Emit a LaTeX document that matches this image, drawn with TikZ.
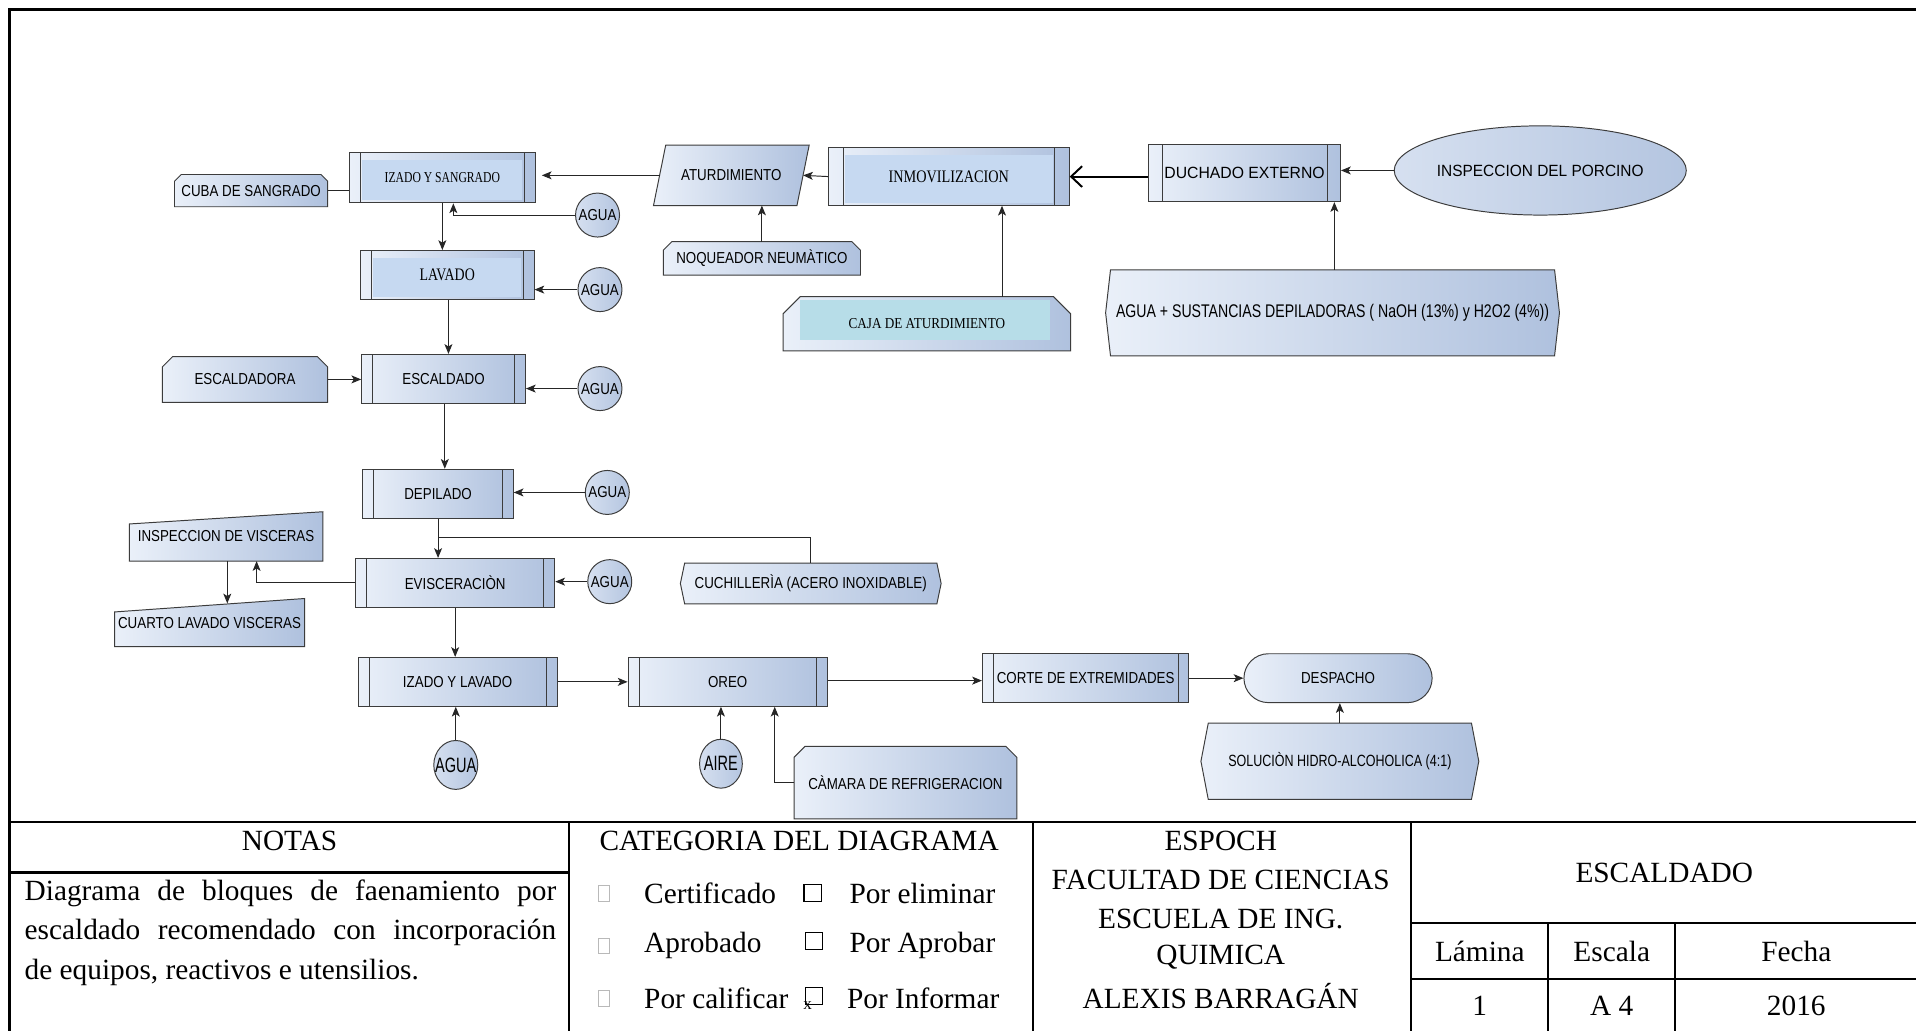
\documentclass[tikz,border=0pt]{standalone}
\usepackage{fontspec}
\usepackage{graphicx}
\setmainfont{Liberation Serif}
\newfontfamily\dsans{Liberation Sans}
\usetikzlibrary{arrows.meta,backgrounds,shapes.geometric}
\definecolor{lineC}{HTML}{3C3C3C}
\definecolor{blueL}{HTML}{EAF0F9}
\definecolor{blueR}{HTML}{AFC1DE}
\definecolor{circL}{HTML}{D6E0F0}
\definecolor{circR}{HTML}{B4C5E0}
\definecolor{boxfill}{HTML}{C6D9F1}
\definecolor{cyanfill}{HTML}{B7DDE8}
\newcommand{\fsz}[1]{\fontsize{#1}{#1}\selectfont}
% narrow lettering used in the flow chart labels
\newcommand{\sq}[2][0.84]{\scalebox{#1}[1]{#2}}
% two inner bars of a predefined-process box
\newcommand{\procbars}{\draw[lineC, line width=0.7pt]
  ([xshift=\barw]path picture bounding box.north west) -- ([xshift=\barw]path picture bounding box.south west)
  ([xshift=-\barw]path picture bounding box.north east) -- ([xshift=-\barw]path picture bounding box.south east);}
% outlines drawn behind text nodes
\newcommand{\chamfshape}[2]{\draw[shp] ([xshift=#2]#1.north west) -- ([xshift=-#2]#1.north east) -- ([yshift=-#2]#1.north east) -- (#1.south east) -- (#1.south west) -- ([yshift=-#2]#1.north west) -- cycle;}
\newcommand{\manshape}[2]{\draw[shp] (#1.south west) -- ([yshift=-#2]#1.north west) -- (#1.north east) -- (#1.south east) -- cycle;}
\newcommand{\dispshape}[2]{\draw[shp] ([xshift=#2]#1.north west) -- ([xshift=-#2]#1.north east) -- (#1.east) -- ([xshift=-#2]#1.south east) -- ([xshift=#2]#1.south west) -- (#1.west) -- cycle;}
\newcommand{\slantshape}[2]{\draw[shp] ([xshift=#2]#1.north west) -- (#1.north east) -- ([xshift=-#2]#1.south east) -- (#1.south west) -- cycle;}
\tikzset{
  barw/.store in=\barw, barw=9pt,
  box/.style={draw=lineC, line width=0.8pt, left color=blueL, right color=blueR, inner sep=0pt, font={\dsans\fsz{13}}},
  proc/.style={box, path picture={\procbars}},
  procin/.style={box, path picture={\fill[#1] ([xshift=\barw+1.5pt,yshift=-6pt]path picture bounding box.north west) rectangle ([xshift=-\barw-1.5pt,yshift=2pt]path picture bounding box.south east); \procbars}},
  txt/.style={inner sep=0pt, font={\dsans\fsz{13}}},
  serif/.style={font={\rmfamily\fsz{#1}}},
  shp/.style={draw=lineC, line width=0.8pt, left color=blueL, right color=blueR},
  circ/.style={circle, draw=lineC, line width=0.8pt, left color=circL, right color=circR, minimum size=36pt, inner sep=0pt, font={\dsans\fsz{13}}},
  oval/.style={ellipse, draw=lineC, line width=0.8pt, left color=circL, right color=circR, inner xsep=-8pt, inner ysep=0pt, font={\dsans\fsz{17}}},
  arr/.style={draw=black!85, line width=0.8pt, -{Stealth[length=8pt,width=6.5pt,inset=2pt]}},
  link/.style={draw=black!85, line width=0.8pt},
  tbl/.style={inner sep=0pt, font={\fsz{24}}},
  rule/.style={line width=1.7pt},
  gbox/.style={draw=gray!55, line width=0.5pt, minimum width=9pt, minimum height=13pt, inner sep=0pt},
  kbox/.style={draw=black, line width=1pt, minimum width=14pt, minimum height=14pt, inner sep=0pt},
}
\begin{document}
\begin{tikzpicture}[x=1pt,y=-1pt]
\useasboundingbox (0,0) rectangle (1568,843);

% ---------- process chain, top row ----------
\node[txt, font={\dsans\fsz{13.3}}, ellipse, draw=lineC, line width=0.8pt, left color=circL, right color=circR, minimum width=239pt, minimum height=73pt, inner xsep=-4pt] (insp) at (1260.5,139.5) {\sq[0.95]{INSPECCION DEL PORCINO}};
\node[proc, barw=11pt, font={\dsans\fsz{13.3}}, minimum width=157pt, minimum height=47pt] (duch) at (1018.5,141.5) {\sq[0.97]{DUCHADO EXTERNO}};
\node[txt, font={\dsans\fsz{15}}, minimum width=371pt, minimum height=70pt] (sust) at (1090.5,256) {\sq[0.77]{AGUA + SUSTANCIAS DEPILADORAS ( NaOH (13\%) y H2O2 (4\%))}};
\node[procin=boxfill, barw=12pt, serif=14.4, minimum width=197pt, minimum height=47pt] (inmov) at (776.5,144.5) {\sq[0.81]{INMOVILIZACION}};
\node[txt, serif=12.4, minimum width=235pt, minimum height=44pt] (caja) at (758.5,265) {\sq[0.87]{CAJA DE ATURDIMIENTO}};
\node[txt, minimum width=127pt, minimum height=49pt] (atur) at (598.5,143.5) {\sq{ATURDIMIENTO}};
\node[txt, minimum width=161pt, minimum height=27pt] (noq) at (623.5,211.5) {\sq{NOQUEADOR NEUM\`ATICO}};
\node[procin=boxfill, serif=12.4, minimum width=152pt, minimum height=41pt] (izs) at (362,145.5) {\sq[0.77]{IZADO Y SANGRADO}};
\node[txt, minimum width=125pt, minimum height=26pt] (cuba) at (205.5,156) {\sq{CUBA DE SANGRADO}};
\node[circ] (agua1) at (489,176) {\sq{AGUA}};

% ---------- left column ----------
\node[procin=boxfill, serif=14.4, minimum width=142pt, minimum height=40pt] (lav) at (366,225) {\sq[0.79]{LAVADO}};
\node[circ] (agua2) at (491,237) {\sq{AGUA}};
\node[txt, minimum width=135pt, minimum height=37pt] (escd) at (200.5,310.5) {\sq{ESCALDADORA}};
\node[proc, minimum width=134pt, minimum height=40pt] (esc) at (363,310) {\sq{ESCALDADO}};
\node[circ] (agua3) at (491,318) {\sq{AGUA}};
\node[proc, minimum width=123pt, minimum height=40pt] (dep) at (358.5,404) {\sq{DEPILADO}};
\node[circ] (agua4) at (497,403) {\sq{AGUA}};
\node[txt, minimum width=158pt, minimum height=40pt] (inspv) at (185,439) {\sq{INSPECCION DE VISCERAS}};
\node[proc, minimum width=163pt, minimum height=40pt] (evis) at (372.5,477) {\sq{EVISCERACI\`ON}};
\node[circ] (agua5) at (499,476) {\sq{AGUA}};
\node[txt, minimum width=213pt, minimum height=33pt] (cuch) at (663.5,477.5) {\sq{CUCHILLER\`IA (ACERO INOXIDABLE)}};
\node[txt, minimum width=155pt, minimum height=39pt] (cuarto) at (171.5,509.5) {\sq{CUARTO LAVADO VISCERAS}};

% ---------- bottom row ----------
\node[proc, minimum width=163pt, minimum height=40pt] (izl) at (374.5,558) {\sq{IZADO Y LAVADO}};
\node[proc, minimum width=163pt, minimum height=40pt] (oreo) at (595.5,558) {\sq{OREO}};
\node[proc, minimum width=169pt, minimum height=40pt] (corte) at (888.5,555) {\sq{CORTE DE EXTREMIDADES}};
\node[box, rounded corners=20pt, minimum width=154pt, minimum height=40pt] (desp) at (1095,555) {\sq{DESPACHO}};
\node[oval, minimum width=36pt, minimum height=40pt] (agua6) at (373,626) {\sq[0.7]{AGUA}};
\node[oval, minimum width=35pt, minimum height=40pt] (aire) at (590,625) {\sq[0.7]{AIRE}};
\node[txt, minimum width=182pt, minimum height=59pt] (camara) at (741,640.5) {\sq{C\`AMARA DE REFRIGERACION}};
\node[txt, font={\dsans\fsz{13.3}}, minimum width=227pt, minimum height=62pt] (sol) at (1096.5,623) {\sq[0.77]{SOLUCI\`ON HIDRO-ALCOHOLICA (4:1)}};

% ---------- shapes behind the text nodes ----------
\begin{scope}[on background layer]
  \fill[white] (0,0) rectangle (1568,843);
  \chamfshape{cuba}{5.5pt}
  \chamfshape{noq}{7pt}
  \chamfshape{caja}{14pt}
  \fill[cyanfill] ([xshift=14pt,yshift=-2.5pt]caja.north west) rectangle ([xshift=-17pt,yshift=9pt]caja.south east);
  \chamfshape{escd}{8.5pt}
  \chamfshape{camara}{9pt}
  \slantshape{atur}{10pt}
  \manshape{inspv}{10pt}
  \manshape{cuarto}{11pt}
  \dispshape{sust}{4pt}
  \dispshape{cuch}{3.5pt}
  \dispshape{sol}{6pt}
\end{scope}

% ---------- connectors ----------
\draw[arr] (insp.west) -- (insp.west -| duch.east);
\draw[arr] ([xshift=1.5pt]sust.north) -- ([xshift=1.5pt]sust.north |- duch.south);
\draw[line width=1.6pt, -{Straight Barb[length=9pt,width=17pt]}] (duch.west |- inmov.east) -- (inmov.east);
\draw[arr] (inmov.west) -- ([xshift=-5pt]atur.east);
\draw[arr] ([xshift=61.5pt]caja.north) -- ([xshift=61.5pt]caja.north |- inmov.south);
\draw[arr] (noq.north) -- (noq.north |- atur.south);
\draw[arr] ([xshift=5pt]atur.west) -- ([xshift=5pt]atur.west -| izs.east);
\draw[link] (cuba.east) -- (cuba.east -| izs.west);
\draw[arr] (agua1.west) -| ([xshift=9pt]izs.south);
\draw[arr] (izs.south) -- (izs.south |- lav.north);
\draw[arr] (agua2.west) -- (agua2.west -| lav.east);
\draw[arr] ([xshift=1pt]lav.south) -- ([xshift=1pt]lav.south |- esc.north);
\draw[arr] (escd.east) -- (escd.east -| esc.west);
\draw[arr] (agua3.west) -- (agua3.west -| esc.east);
\draw[arr] ([xshift=1pt]esc.south) -- ([xshift=1pt]esc.south |- dep.north);
\draw[arr] (agua4.west) -- (agua4.west -| dep.east);
\draw[arr] (dep.south) -- (dep.south |- evis.north);
\coordinate (branch) at (358.5,440);
\draw[link] (branch) -| (cuch.north);
\draw[arr] (agua5.west) -- (agua5.west -| evis.east);
\draw[arr] (evis.west) -| ([xshift=25pt]inspv.south);
\draw[arr, shorten >=-4pt] ([xshift=1pt]inspv.south) -- ([xshift=1pt]inspv.south |- cuarto.north);
\draw[arr] (evis.south) -- (evis.south |- izl.north);
\draw[arr] (agua6.north) -- (agua6.north |- izl.south);
\draw[arr] (izl.east) -- (izl.east -| oreo.west);
\draw[arr] (aire.north) -- (aire.north |- oreo.south);
\draw[arr] (camara.west) -| ([xshift=38.5pt]oreo.south);
\draw[arr] ([yshift=1pt]oreo.east) -- ([yshift=1pt]oreo.east -| corte.west);
\draw[arr] (corte.east) -- (corte.east -| desp.west);
\draw[arr] (sol.north) -- (sol.north |- desp.south);

% ---------- sheet frame and title block ----------
\draw[line width=2.2pt] (8,845) -- (8,8) -- (1570,8);
\draw[rule] (8,673) -- (1570,673);
\draw[rule] (8,714) -- (466,714);
\draw[rule] (466,673) -- (466,845);
\draw[rule] (845,673) -- (845,845);
\draw[rule] (1155,673) -- (1155,845);
\draw[rule] (1155,755) -- (1570,755);
\draw[rule] (1155,801) -- (1570,801);
\draw[rule] (1267,755) -- (1267,845);
\draw[rule] (1371,755) -- (1371,845);

\node[tbl] (notas) at (237,688) {NOTAS};
\node[tbl, anchor=west] (n1) at (20,731) {\makebox[435pt][s]{Diagrama de bloques de faenamiento por}};
\node[tbl, anchor=west] (n2) at (20,763) {\makebox[435pt][s]{escaldado recomendado con incorporación}};
\node[tbl, anchor=west] (n3) at (20,796) {de equipos, reactivos e utensilios.};

\node[tbl] (cat) at (654,688) {CATEGORIA DEL DIAGRAMA};
\node[gbox] (g1) at (494,731) {};
\node[gbox] (g2) at (494,774) {};
\node[gbox] (g3) at (494,817) {};
\node[tbl, anchor=west] (c1) at (527,731) {Certificado};
\node[tbl, anchor=west] (c2) at (527,774) {Aprobado};
\node[tbl, anchor=west] (c3) at (527,817) {Por calificar};
\node[kbox] (k1) at (665,731) {};
\node[kbox] (k2) at (666,770) {};
\node[kbox] (k3) at (666,815) {};
\node[inner sep=0pt, font={\fsz{14}}] (kx) at (661,823) {x};
\node[tbl, anchor=west] (d1) at (695,731) {Por eliminar};
\node[tbl, anchor=west] (d2) at (695,774) {Por Aprobar};
\node[tbl, anchor=west] (d3) at (693,817) {Por Informar};

\node[tbl] (u1) at (999,688) {ESPOCH};
\node[tbl] (u2) at (999,720) {FACULTAD DE CIENCIAS};
\node[tbl] (u3) at (999,752) {ESCUELA DE ING.};
\node[tbl] (u4) at (999,783) {QUIMICA};
\node[tbl] (u5) at (999,815) {ALEXIS BARRAGÁN};

\node[tbl] (ttl) at (1362,714) {ESCALDADO};
\node[tbl] (h1) at (1211,779) {Lámina};
\node[tbl] (h2) at (1319,779) {Escala};
\node[tbl] (h3) at (1470,779) {Fecha};
\node[tbl] (v1) at (1211,823) {1};
\node[tbl] (v2) at (1319,823) {A 4};
\node[tbl] (v3) at (1470,823) {2016};
\end{tikzpicture}
\end{document}
